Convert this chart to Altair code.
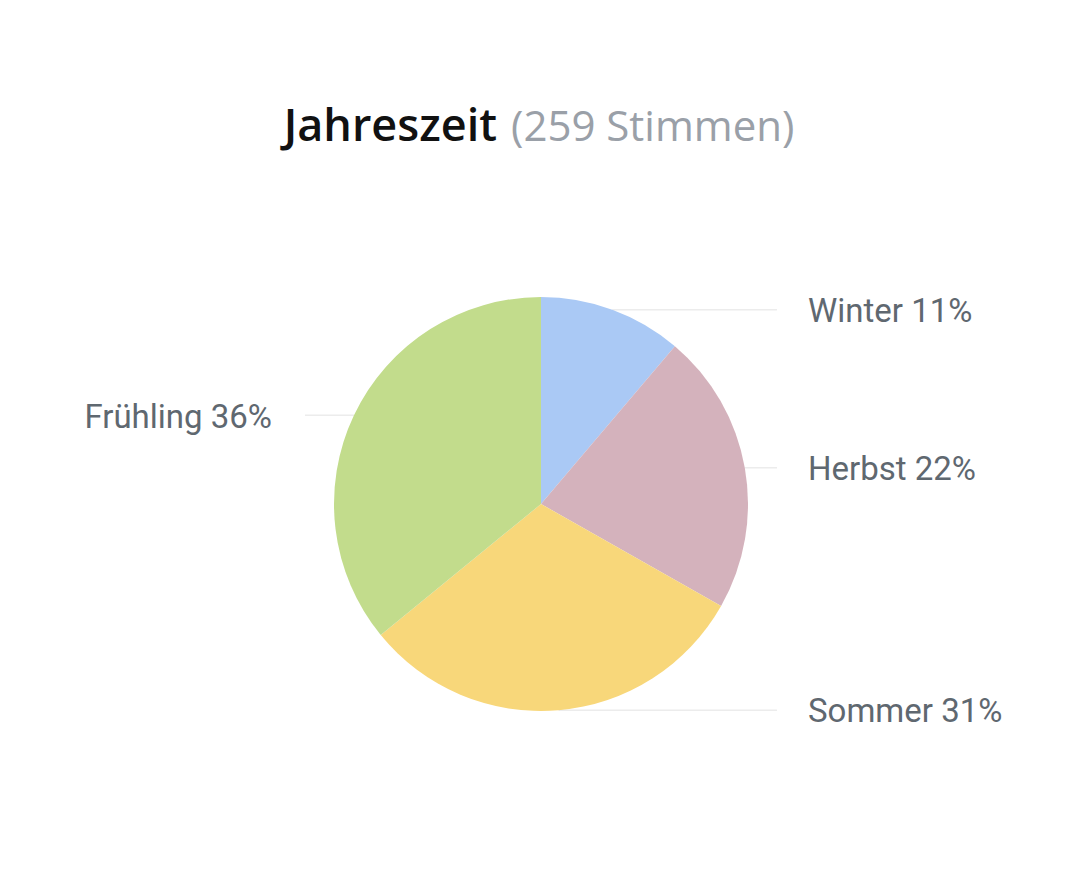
import altair as alt
import pandas as pd

# Data
seasons = ["Winter", "Herbst", "Sommer", "Frühling"]
votes = [29, 57, 80, 93]
colors = ["#aac9f5", "#d4b2bc", "#f8d77a", "#c2dc8c"]
title_main = "Jahreszeit"
title_sub = "(259 Stimmen)"

W, H = 1064, 857
CX, CY, R = 533, 496, 207

df = pd.DataFrame({"season": seasons, "votes": votes, "ord": list(range(len(seasons)))})

base = alt.Chart(df)

xs = alt.Scale(domain=[0, W], range=[0, W])
ys = alt.Scale(domain=[0, H], range=[0, H])

calc = base.transform_window(
    cum="sum(votes)", sort=[alt.SortField("ord")]
).transform_joinaggregate(
    total="sum(votes)"
).transform_calculate(
    mid=f"(datum.cum - datum.votes/2) / datum.total * 2 * PI",
    pct="round(datum.votes / datum.total * 100)",
).transform_calculate(
    px=f"{CX} + {R} * sin(datum.mid)",
    py=f"{CY} - {R} * cos(datum.mid)",
    right="sin(datum.mid) >= 0",
).transform_calculate(
    lx="datum.right ? 769 : 297",
    tx="datum.right ? 800 : 264",
    label="datum.season + ' ' + datum.pct + '%'",
)

lines = calc.mark_rule(color="#ececec", strokeWidth=1.5).encode(
    x=alt.X("px:Q", scale=xs, axis=None),
    x2="lx:Q",
    y=alt.Y("py:Q", scale=ys, axis=None),
)

arcs = base.mark_arc(outerRadius=R, stroke=None).encode(
    theta=alt.Theta("votes:Q", stack=True),
    color=alt.Color("season:N", scale=alt.Scale(domain=seasons, range=colors), legend=None),
    order=alt.Order("ord:Q"),
    x=alt.value(CX),
    y=alt.value(CY),
)

labels_r = calc.transform_filter("datum.right").mark_text(
    font="Roboto", fontSize=33, color="#5f6870", align="left", baseline="middle", dy=2
).encode(
    x=alt.X("tx:Q", scale=xs, axis=None),
    y=alt.Y("py:Q", scale=ys, axis=None),
    text="label:N",
)
labels_l = calc.transform_filter("!datum.right").mark_text(
    font="Roboto", fontSize=33, color="#5f6870", align="right", baseline="middle", dy=3
).encode(
    x=alt.X("tx:Q", scale=xs, axis=None),
    y=alt.Y("py:Q", scale=ys, axis=None),
    text="label:N",
)

tdf = pd.DataFrame({"main": [title_main], "sub": [title_sub]})
t1 = alt.Chart(tdf).mark_text(
    font="Open Sans", fontSize=45, fontWeight=600, color="#111111",
    align="right", baseline="alphabetic"
).encode(x=alt.value(489), y=alt.value(133), text="main:N")
t2 = alt.Chart(tdf).mark_text(
    font="Open Sans", fontSize=42, color="#9aa0a8",
    align="left", baseline="alphabetic"
).encode(x=alt.value(503), y=alt.value(133), text="sub:N")

chart = alt.layer(lines, arcs, labels_r, labels_l, t1, t2).properties(
    width=W, height=H, padding=0, autosize="none"
).configure_view(stroke=None).resolve_scale(x="shared", y="shared")

chart.save("out.html", embed_options={"renderer": "svg", "actions": False})
